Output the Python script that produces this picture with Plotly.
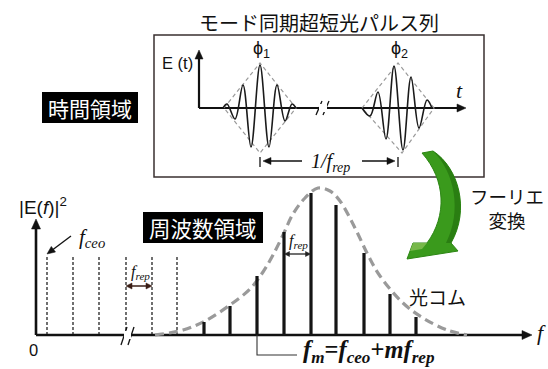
import plotly.graph_objects as go

# ---- canvas (pixel-like units, y grows downward) ----
W, H = 548, 369

# ---- time domain: two pulses (extrema read along the carrier) ----
pulse1_x = [223, 227, 235, 243, 251, 260, 269, 277, 285, 292, 296]
pulse1_y = [108, 104, 119, 85, 147, 65, 147, 85, 121, 104, 108]
pulse2_x = [362, 370, 378, 386, 394, 403, 411, 419, 427, 432]
pulse2_y = [108, 116, 92, 139, 66, 150, 77, 128, 100, 108]
env1_x = [224, 260, 296, 260, 224]
env1_y = [108, 63, 108, 153, 108]
env2_x = [362, 398, 434, 402, 362]
env2_y = [108, 63, 108, 153, 108]

# ---- frequency domain ----
f_base = 335
dashed_modes_x = [47, 73, 99, 126, 152, 177]
dashed_top = 255
comb_x = [204, 230, 257, 284, 311, 336, 364, 390, 416]
comb_h = [13, 29, 59, 103, 142, 130, 82, 41, 18]
spec_env_x = [155, 183, 205, 230, 250, 263, 273, 283, 293, 305, 318, 330,
              340, 355, 368, 380, 403, 423, 447, 467]
spec_env_y = [335, 330, 321, 305, 289, 272, 255, 235, 214, 198, 188, 191,
              201, 228, 255, 276, 303, 318, 330, 335]

SANS = "Liberation Sans, Arial, sans-serif"
SERIF = "Liberation Serif, Times New Roman, serif"
JP = "Noto Sans CJK JP, sans-serif"
INK = "#111111"

fig = go.Figure()


def line(xs, ys, width=1.5, color=INK, dash=None, shape="linear"):
    fig.add_trace(go.Scatter(
        x=xs, y=ys, mode="lines", hoverinfo="skip", showlegend=False,
        line=dict(color=color, width=width, dash=dash, shape=shape,
                  smoothing=1.0 if shape == "spline" else None)))


def head(tx, ty, dx, dy, length=8, half=4, color=INK):
    # filled triangular arrowhead with tip at (tx, ty) pointing along (dx, dy)
    n = (dx * dx + dy * dy) ** 0.5
    ux, uy = dx / n, dy / n
    bx, by = tx - ux * length, ty - uy * length
    px, py = -uy * half, ux * half
    fig.add_shape(type="path", xref="x", yref="y",
                  path=f"M {tx},{ty} L {bx + px},{by + py} L {bx - px},{by - py} Z",
                  fillcolor=color, line=dict(color=color, width=0.5))


def text(x, y, s, size, family=SANS, color=INK, **kw):
    fig.add_annotation(x=x, y=y, text=s, showarrow=False, xref="x", yref="y",
                       font=dict(size=size, family=family, color=color), **kw)


# ================= time domain panel =================
fig.add_shape(type="rect", x0=154, y0=35, x1=484, y1=177,
              line=dict(color="#3a3030", width=1.5), fillcolor="rgba(0,0,0,0)")
text(319, 22, "モード同期超短光パルス列", 20, JP)

# axes
line([199, 199], [108, 57], width=2.2)
head(199, 50, 0, -1, 9, 4)
line([199, 458], [108, 108], width=2.2)
head(466, 108, 1, 0, 9, 4)
text(177, 63, "E (t)", 16.5)
text(459, 90, "<i>t</i>", 22, SERIF)

# axis break
fig.add_shape(type="rect", x0=319, y0=104, x1=327, y1=112,
              line=dict(width=0), fillcolor="white")
line([316, 322], [115, 101], width=1.3)
line([323, 329], [115, 101], width=1.3)

# pulse envelopes and carriers
line(env1_x, env1_y, width=1.2, color="#9a9a9a", dash="4px,3px")
line(env2_x, env2_y, width=1.2, color="#9a9a9a", dash="4px,3px")
line(pulse1_x, pulse1_y, width=1.6, color="#1a1a1a", shape="spline")
line(pulse2_x, pulse2_y, width=1.6, color="#1a1a1a", shape="spline")
text(261, 49, "ϕ<sub>1</sub>", 18)
text(399, 49, "ϕ<sub>2</sub>", 18)

# period marker 1/f_rep
line([260, 260], [157, 167], width=1.3)
line([398, 398], [157, 167], width=1.3)
line([302, 269], [161, 161], width=1.5)
head(263, 161, -1, 0, 8, 3.5)
line([362, 389], [161, 161], width=1.5)
head(395, 161, 1, 0, 8, 3.5)
text(330, 162, "<i>1/f<sub>rep</sub></i>", 20, SERIF)

# labels in black boxes
fig.add_shape(type="rect", x0=42, y0=92, x1=138, y1=123,
              line=dict(width=0), fillcolor="black")
text(90, 107.5, "時間領域", 21, JP, color="white")
fig.add_shape(type="rect", x0=143, y0=212, x1=263, y1=243,
              line=dict(width=0), fillcolor="black")
text(203, 227.5, "周波数領域", 21.5, JP, color="white")

# Fourier-transform arrow
fig.add_shape(type="path", xref="x", yref="y",
              path="M 422,153 L 433,151 C 459,168 470,210 451,243 L 458,251 "
                   "L 407,259 L 413,243 L 427,243 C 447,216 446,180 422,153 Z",
              fillcolor="#3a9a1c", line=dict(color="#2c8614", width=1))
fig.add_shape(type="path", xref="x", yref="y",
              path="M 433,151 C 459,168 470,210 451,243 L 446,243 "
                   "C 462,212 455,172 433,151 Z",
              fillcolor="#2a7e12", line=dict(width=0))
fig.add_shape(type="path", xref="x", yref="y",
              path="M 413,243 L 427,243 L 422,249 L 410,251 Z",
              fillcolor="#77b84a", line=dict(width=0))
text(507, 208, "フーリエ<br>変換", 18.5, JP)

# ================= frequency domain =================
line([36, 36], [f_base, 227], width=2.6)
head(36, 219, 0, -1, 10, 4.5)
line([36, 524], [f_base, f_base], width=2.6)
head(532, f_base, 1, 0, 10, 4.5)
text(43, 206, "|E(<i>f</i>)|<sup>2</sup>", 19)
text(33, 350, "0", 16.5)
text(541, 332, "<i>f</i>", 22, SERIF)

# axis break
fig.add_shape(type="rect", x0=124, y0=331, x1=131, y1=339,
              line=dict(width=0), fillcolor="white")
line([121, 127], [345, 327], width=1.3)
line([128, 134], [345, 327], width=1.3)

# dashed low-frequency modes
for x in dashed_modes_x:
    line([x, x], [f_base, dashed_top], width=1.2, dash="3px,2px")

# f_ceo pointer
line([71, 53], [236, 249.5], width=1.3)
head(47, 254, -24, 18, 8, 3.5)
text(92, 238, "<i>f<sub>ceo</sub></i>", 21, SERIF)

# f_rep bracket (left)
line([131, 147], [286, 286], width=1.5, color="#3a1e16")
head(126, 286, -1, 0, 6, 3, color="#3a1e16")
head(152, 286, 1, 0, 6, 3, color="#3a1e16")
text(140, 272, "<i>f<sub>rep</sub></i>", 16, SERIF)

# spectral envelope
line(spec_env_x, spec_env_y, width=3.2, color="#9a9a9a", dash="9px,5px", shape="spline")

# comb teeth
cx, cy = [], []
for x, h in zip(comb_x, comb_h):
    cx += [x, x, None]
    cy += [f_base, f_base - h, None]
line(cx, cy, width=3.2, color="#151515")

# f_rep bracket (comb)
line([289, 306], [254, 254], width=1.3, color="#222222")
head(284.5, 254, -1, 0, 5, 2.5, color="#222222")
head(310.5, 254, 1, 0, 5, 2.5, color="#222222")
text(298, 241, "<i>f<sub>rep</sub></i>", 16, SERIF)

text(437, 296, "光コム", 19, JP)

# mode-frequency formula with leader line
line([257, 257, 297], [f_base, 355, 355], width=1.1, color="#333333")
text(369, 351, "<b><i>f<sub>m</sub></i>=<i>f<sub>ceo</sub></i>+<i>mf<sub>rep</sub></i></b>",
     24.5, SERIF)

fig.update_layout(
    width=W, height=H, autosize=False,
    margin=dict(l=0, r=0, t=0, b=0),
    paper_bgcolor="white", plot_bgcolor="white",
    xaxis=dict(range=[0, W], visible=False, fixedrange=True),
    yaxis=dict(range=[H, 0], visible=False, fixedrange=True),
    showlegend=False,
)

fig.write_html("out.html")
